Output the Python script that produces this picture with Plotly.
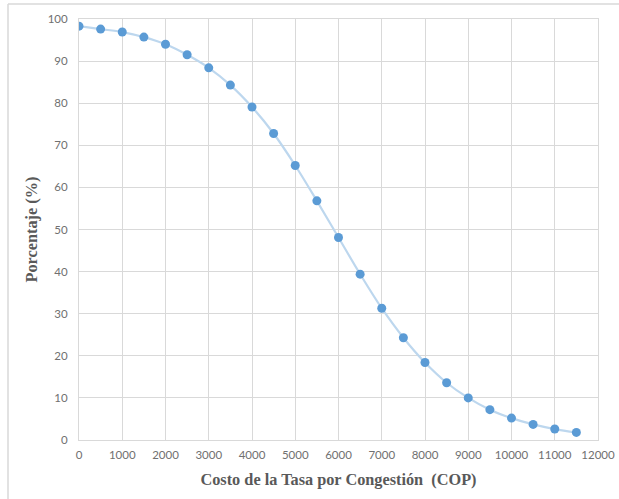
import plotly.graph_objects as go

costo = [0, 500, 1000, 1500, 2000, 2500, 3000, 3500, 4000, 4500, 5000, 5500,
         6000, 6500, 7000, 7500, 8000, 8500, 9000, 9500, 10000, 10500, 11000, 11500]
porcentaje = [98.3, 97.6, 96.9, 95.7, 94.0, 91.5, 88.4, 84.3, 79.1, 72.8, 65.2, 56.8,
              48.1, 39.4, 31.3, 24.3, 18.4, 13.6, 10.0, 7.2, 5.2, 3.7, 2.6, 1.8]

x_ticks = list(range(0, 12001, 1000))
y_ticks = list(range(0, 101, 10))

fig = go.Figure()
fig.add_trace(go.Scatter(
    x=costo, y=porcentaje, mode="lines+markers",
    line=dict(color="#BDD7EE", width=2.2, shape="spline"),
    marker=dict(color="#5B9BD5", size=9),
    showlegend=False,
))

tickfont = dict(family="Lato, Liberation Sans, sans-serif", size=11.5, color="#707070")
titlefont = dict(family="Liberation Serif, Times New Roman, serif", size=16.3, color="#595959")

fig.update_layout(
    width=619, height=499,
    margin=dict(l=79, r=21, t=19, b=59),
    paper_bgcolor="white", plot_bgcolor="white",
    xaxis=dict(
        range=[0, 12000], tickvals=x_ticks, ticktext=[str(v) for v in x_ticks],
        showgrid=True, gridcolor="#D9D9D9", gridwidth=1,
        zeroline=False, showline=True, linecolor="#D9D9D9", linewidth=1, mirror=True,
        tickfont=tickfont, ticks="", ticklabelstandoff=4, automargin=False,
        title=dict(text="<b>Costo de la Tasa por Congestión  (COP)</b>", font=titlefont, standoff=13),
    ),
    yaxis=dict(
        range=[0, 100], tickvals=y_ticks,
        showgrid=True, gridcolor="#D9D9D9", gridwidth=1,
        zeroline=False, showline=True, linecolor="#D9D9D9", linewidth=1, mirror=True,
        tickfont=tickfont, ticks="", ticklabelstandoff=8, automargin=False,
        title=dict(text="<b>Porcentaje (%)</b>", font=titlefont, standoff=5),
    ),
)

# outer chart-area border (left and top edges)
border = dict(color="#D9D9D9", width=1.5)
fig.add_shape(type="line", xref="paper", yref="paper",
              x0=(8 - 79) / 519, x1=(8 - 79) / 519,
              y0=(440 - 520) / 421, y1=(440 - 4) / 421, line=border, layer="below")
fig.add_shape(type="line", xref="paper", yref="paper",
              x0=(8 - 79) / 519, x1=(640 - 79) / 519,
              y0=(440 - 4) / 421, y1=(440 - 4) / 421, line=border, layer="below")

fig.write_html(
    "out.html",
    config={"displayModeBar": False},
    post_script="document.body.style.margin='0';document.body.style.overflow='hidden';",
)
